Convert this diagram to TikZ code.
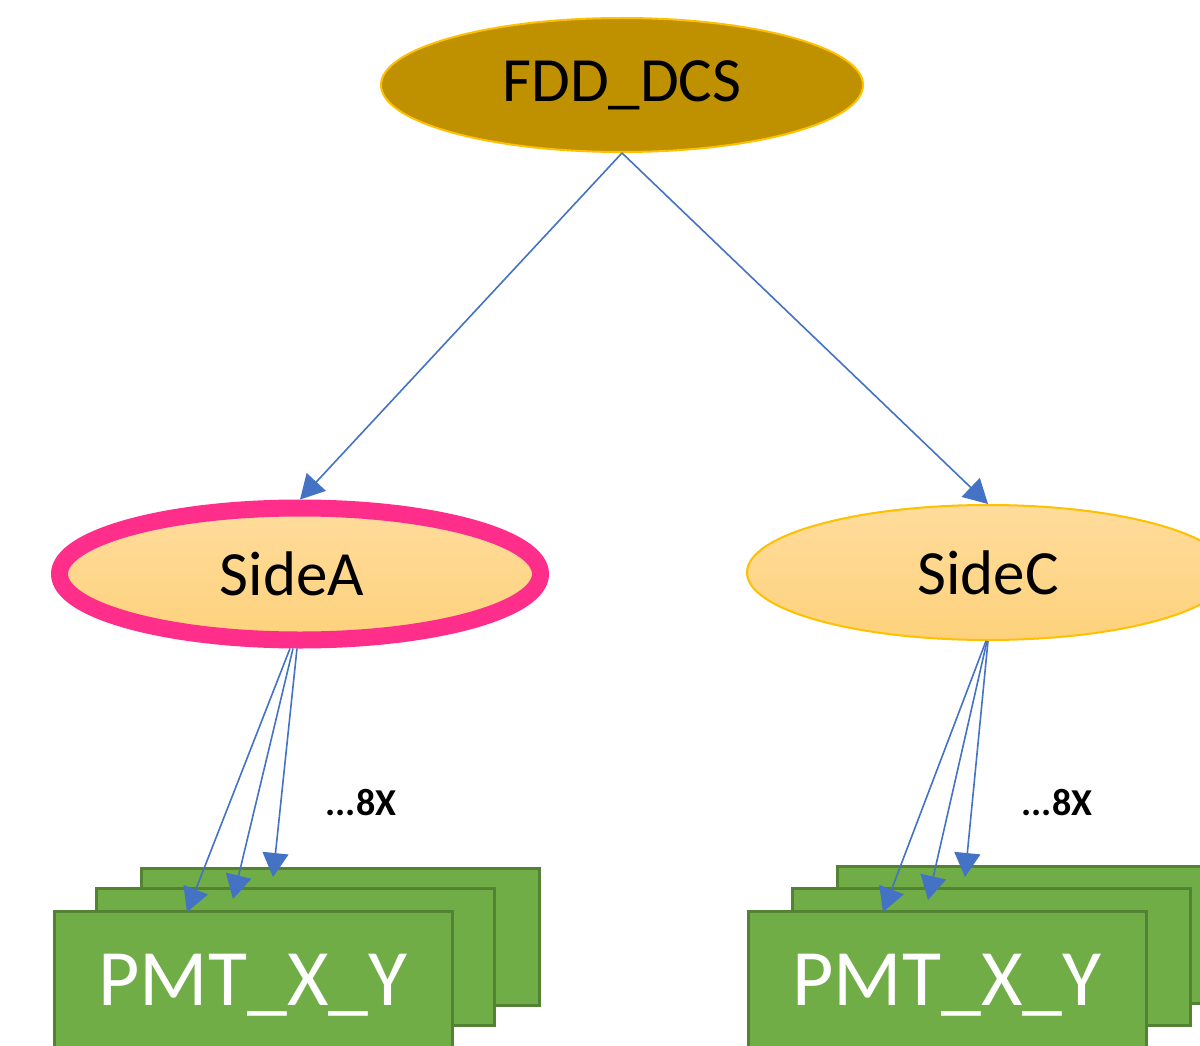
\documentclass[tikz,border=0pt]{standalone}
\usepackage{fontspec}
\setmainfont{Carlito}
\usetikzlibrary{shapes.geometric,arrows.meta}
\definecolor{goldfill}{HTML}{BF9000}
\definecolor{goldline}{HTML}{FFC000}
\definecolor{sidetop}{HTML}{FFDC9C}
\definecolor{sidebot}{HTML}{FED27C}
\definecolor{pinkline}{HTML}{FF2E8A}
\definecolor{pmtgreen}{HTML}{70AD47}
\definecolor{pmtborder}{HTML}{548235}
\definecolor{arrowblue}{HTML}{4472C4}
\begin{document}
\begin{tikzpicture}[x=1pt,y=-1pt,
  oval/.style={ellipse, inner sep=0pt, font=\fontsize{63}{72}\selectfont},
  sideoval/.style={oval, top color=sidetop, bottom color=sidebot},
  conn/.style={draw=arrowblue, line width=1.6pt, -{Triangle[length=24pt,width=26pt]}},
  pmt/.style={rectangle, draw=pmtborder, line width=3pt, fill=pmtgreen,
    minimum width=398pt, minimum height=137pt, inner sep=0pt, text=white,
    font=\fontsize{80}{90}\selectfont, text height=51pt, text depth=0pt},
  mult/.style={anchor=base, font=\bfseries\fontsize{38}{40}\selectfont}]
\clip (0,0) rectangle (1200,1046);
\fill[white] (0,0) rectangle (1200,1046);

% top node
\node[oval, fill=goldfill, draw=goldline, line width=2pt,
  minimum width=482pt, minimum height=134pt] (fdd) at (622,85) {FDD\_DCS};

% side nodes
\node[sideoval, draw=pinkline, line width=17pt,
  minimum width=481pt, minimum height=132pt] (sa) at (300,574) {\hspace*{-16pt}SideA};
\node[sideoval, draw=goldline, line width=2pt,
  minimum width=482pt, minimum height=135pt] (sc) at (988,572.5) {SideC};

% PMT stacks, left
\node[pmt] (la3) at (340,936.5) {};
\node[pmt] (la2) at (295,956.5) {};
\node[pmt] (la1) at (253,979.5) {PMT\_X\_Y};
% PMT stacks, right
\node[pmt] (rc3) at (1036,935) {};
\node[pmt] (rc2) at (991,957) {};
\node[pmt] (rc1) at (947,979.5) {PMT\_X\_Y};

% arrow end points
\coordinate (ta1) at (187,912);
\coordinate (ta2) at (233,899);
\coordinate (ta3) at (273,877);
\coordinate (tc1) at (883,912);
\coordinate (tc2) at (928,900);
\coordinate (tc3) at (965,877);

% connectors
\draw[conn] (fdd.south) -- (sa.north);
\draw[conn] (fdd.south) -- (sc.north);
\draw[conn] ([xshift=-10pt]sa.south) -- (ta1);
\draw[conn] ([xshift=-7pt]sa.south) -- (ta2);
\draw[conn] ([xshift=-3pt]sa.south) -- (ta3);
\draw[conn] ([xshift=-2pt]sc.south) -- (tc1);
\draw[conn] ([xshift=-1pt]sc.south) -- (tc2);
\draw[conn] (sc.south) -- (tc3);

% multiplicity labels
\node[mult] (ma) at (361,815) {...8X};
\node[mult] (mc) at (1057,815) {...8X};
\end{tikzpicture}
\end{document}
